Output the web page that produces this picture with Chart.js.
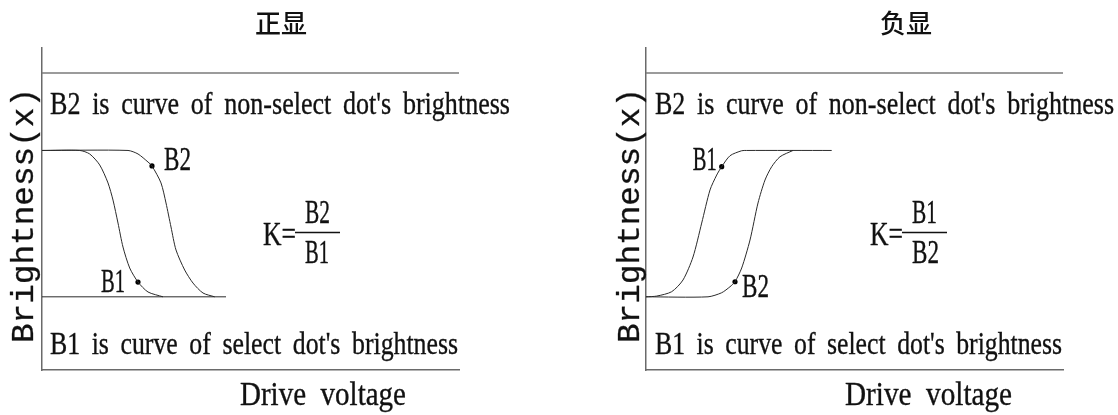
<!DOCTYPE html>
<html>
<head>
<meta charset="utf-8">
<script src="https://cdn.jsdelivr.net/npm/chart.js@4.4.0/dist/chart.umd.min.js"></script>
<style>
  html, body { margin:0; padding:0; background:#fff; }
  #wrap { position:relative; width:1118px; height:415px; overflow:hidden; }
  canvas { position:absolute; top:0; }
</style>
</head>
<body>
<div id="wrap">
  <canvas id="c1" width="559" height="415" style="left:0px"></canvas>
  <canvas id="c2" width="559" height="415" style="left:559px"></canvas>
</div>
<script>
// ---------- DATA (drive voltage in arbitrary units, brightness normalised 0..1) ----------
const panelTitles = ["正显", "负显"];
const yAxisTitle = "Brightness(x)";
const xAxisTitle = "Drive voltage";
const noteNonSelect = "B2 is curve of non-select dot's brightness";
const noteSelect = "B1 is curve of select dot's brightness";
const refLevel = 1.53;           // upper reference line
const voltageMax = 41.7;
const brightMin = -0.5, brightMax = 1.7;

// 正显 (positive display): brightness falls with voltage
const posB1V = [0, 3.77, 4.77, 5.77, 6.6, 7.1, 7.6, 8.1, 8.77, 9.6, 10.6, 12.1];
const posB1B = [1, 1, 0.976, 0.901, 0.778, 0.661, 0.504, 0.340, 0.197, 0.101, 0.033, 0];
const posB2V = [0, 8.6, 9.6, 10.6, 11.0, 11.9, 12.4, 12.9, 13.4, 14.27, 15.1, 16.1, 17.27];
const posB2B = [1, 1, 0.976, 0.921, 0.894, 0.778, 0.641, 0.477, 0.320, 0.183, 0.094, 0.026, 0];
const posBaseV = [0, 18.4];
const posBaseB = [0, 0];
const posDotB1 = [9.6, 0.101];
const posDotB2 = [11.0, 0.894];

// 负显 (negative display): brightness rises with voltage
const negB1V = [0, 1.07, 2.57, 3.7, 4.7, 5.57, 6.4, 7.07, 7.57, 8.4, 9.57, 10.07, 18.57];
const negB1B = [0, 0.005, 0.035, 0.115, 0.272, 0.504, 0.730, 0.832, 0.889, 0.964, 0.998, 1, 1];
const negB2V = [0, 6.2, 7.57, 8.4, 8.9, 9.57, 10.4, 11.2, 11.9, 12.57, 13.4, 14.7];
const negB2B = [0, 0, 0.028, 0.069, 0.103, 0.197, 0.388, 0.641, 0.798, 0.889, 0.957, 1];
const negDotB1 = [7.57, 0.889];
const negDotB2 = [8.9, 0.103];

// ---------- helpers ----------
function pts(xs, ys) { return xs.map((x, i) => ({ x: x, y: ys[i] })); }

const SERIF = '"Liberation Serif", "DejaVu Serif", serif';
const MONO = '"Liberation Mono", "DejaVu Sans Mono", monospace';

function fitText(ctx, text, x, y, width, capH, family, align, wordSp, thick) {
  ctx.save();
  ctx.textBaseline = 'alphabetic';
  ctx.textAlign = 'left';
  ctx.font = 'normal 100px ' + family;
  const ratio = ctx.measureText('H').actualBoundingBoxAscent / 100 || 0.66;
  const size = capH / ratio;
  ctx.font = 'normal ' + size.toFixed(2) + 'px ' + family;
  if ('wordSpacing' in ctx) ctx.wordSpacing = ((wordSp || 0) * size).toFixed(2) + 'px';
  const w0 = ctx.measureText(text).width;
  const sx = width ? width / w0 : 1;
  ctx.translate(x, y);
  ctx.scale(sx, 1);
  ctx.textAlign = align || 'left';
  ctx.fillText(text, 0, 0);
  if (thick) {
    ctx.lineWidth = thick;
    ctx.strokeStyle = ctx.fillStyle;
    ctx.strokeText(text, 0, 0);
  }
  ctx.restore();
}

const annotPlugin = {
  id: 'annot',
  afterDraw(chart, args, o) {
    const ctx = chart.ctx;
    const ca = chart.chartArea;
    const ox = ca.left;
    const xs = chart.scales.x, ys = chart.scales.y;
    ctx.save();
    ctx.fillStyle = '#111';
    // title
    ctx.font = '500 26px "Noto Sans CJK SC", sans-serif';
    ctx.textAlign = 'center';
    ctx.textBaseline = 'middle';
    ctx.fillText(o.title, ox + o.titleX, 23);
    ctx.textBaseline = 'alphabetic';
    // notes
    fitText(ctx, noteNonSelect, ox + o.n1x, 114, o.n1w, 21, SERIF, 'left', 0.2, 0.35);
    fitText(ctx, noteSelect, ox + o.n1x, 354, o.n2w, 21, SERIF, 'left', 0.2, 0.35);
    fitText(ctx, xAxisTitle, ox + o.xlx, 405, o.xlw, 21.5, SERIF, 'left', 0.25, 0.35);
    // y title (rotated)
    ctx.save();
    ctx.translate(ox + o.ytx, 215.5);
    ctx.rotate(-Math.PI / 2);
    fitText(ctx, yAxisTitle, 0, 0, 255, 21, MONO, 'center', 0, 0.3);
    ctx.restore();
    // K formula
    fitText(ctx, 'K=', ox + o.kx, 245, 33, 22, SERIF, 'left', 0, 0.35);
    ctx.strokeStyle = '#111';
    ctx.lineWidth = 1.5;
    ctx.beginPath();
    ctx.moveTo(ox + o.kx + 32, 232.5);
    ctx.lineTo(ox + o.kx + 77, 232.5);
    ctx.stroke();
    fitText(ctx, o.num, ox + o.kx + 42, 223, 25, 21.5, SERIF, 'left', 0, 0.35);
    fitText(ctx, o.den, ox + o.kx + 42, 263, o.den === 'B2' ? 27 : 24, 21.5, SERIF, 'left', 0, 0.35);
    // dot labels
    o.labels.forEach(l => {
      const px = xs.getPixelForValue(l.at[0]);
      const py = ys.getPixelForValue(l.at[1]);
      fitText(ctx, l.text, px + l.dx, py + l.dy, l.text === 'B2' ? 27 : 24, 21.5, SERIF, l.align, 0, 0.35);
    });
    ctx.restore();
  }
};

function makeChart(id, curves, dots, pad, annot) {
  const lineDs = curves.map(c => ({
    data: c.data,
    showLine: true,
    borderColor: c.color || '#2a2a2a',
    borderWidth: c.width || 1,
    pointRadius: 0,
    tension: c.tension === undefined ? 0.25 : c.tension,
    fill: false
  }));
  lineDs.push({
    data: dots.map(d => ({ x: d[0], y: d[1] })),
    showLine: false,
    pointRadius: 2.6,
    pointBackgroundColor: '#000',
    pointBorderColor: '#000',
    pointBorderWidth: 0
  });
  return new Chart(document.getElementById(id), {
    type: 'scatter',
    data: { datasets: lineDs },
    options: {
      responsive: false,
      animation: false,
      events: [],
      layout: { padding: pad },
      plugins: { legend: { display: false }, tooltip: { enabled: false }, annot: annot },
      scales: {
        x: {
          type: 'linear', min: 0, max: voltageMax,
          ticks: { display: false },
          grid: { display: false, drawTicks: false },
          border: { display: true, color: '#6a6a6a', width: 1.5 }
        },
        y: {
          type: 'linear', min: brightMin, max: brightMax,
          ticks: { display: false },
          grid: { display: false, drawTicks: false },
          border: { display: true, color: '#6a6a6a', width: 1.5 }
        }
      }
    },
    plugins: [annotPlugin]
  });
}

const refLine = { data: pts([0, voltageMax], [refLevel, refLevel]), color: '#7a7a7a', width: 1.5, tension: 0 };

makeChart('c1', [
  refLine,
  { data: pts(posBaseV, posBaseB), color: '#2a2a2a', tension: 0 },
  { data: pts(posB1V, posB1B) },
  { data: pts(posB2V, posB2B) }
], [posDotB1, posDotB2],
{ left: 42, right: 100, top: 48, bottom: 45 },
{
  title: panelTitles[0], titleX: 239,
  n1x: 8, n1w: 460, n2w: 408, xlx: 198, xlw: 166, ytx: -9,
  kx: 221, num: 'B2', den: 'B1',
  labels: [
    { text: 'B2', at: posDotB2, dx: 12, dy: 4, align: 'left' },
    { text: 'B1', at: posDotB1, dx: -13, dy: 10, align: 'right' }
  ]
});

makeChart('c2', [
  refLine,
  { data: pts(negB1V, negB1B) },
  { data: pts(negB2V, negB2B) }
], [negDotB1, negDotB2],
{ left: 87, right: 55, top: 48, bottom: 45 },
{
  title: panelTitles[1], titleX: 260,
  n1x: 9, n1w: 459, n2w: 407, xlx: 199, xlw: 167, ytx: -7,
  kx: 224, num: 'B1', den: 'B2',
  labels: [
    { text: 'B1', at: negDotB1, dx: -5, dy: 3, align: 'right' },
    { text: 'B2', at: negDotB2, dx: 7, dy: 15, align: 'left' }
  ]
});
</script>
</body>
</html>
